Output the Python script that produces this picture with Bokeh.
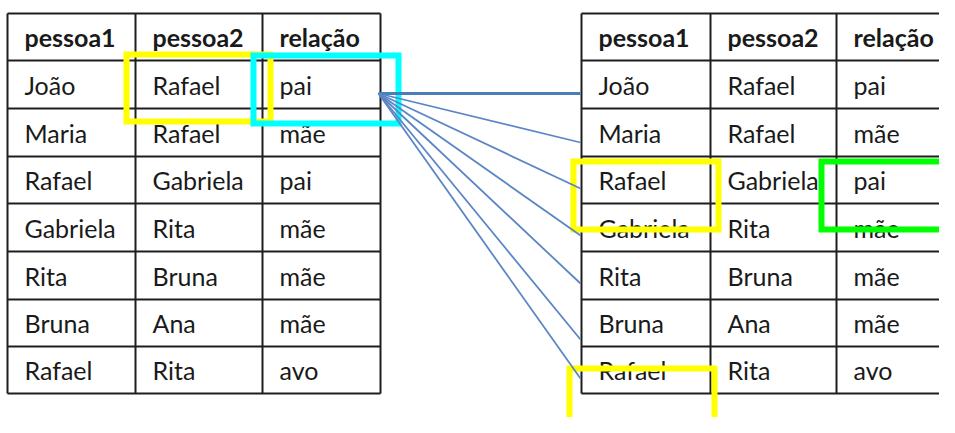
from bokeh.plotting import figure
from bokeh.models import ColumnDataSource, Range1d
from bokeh.core.properties import value
from bokeh.embed import file_html
from bokeh.resources import INLINE

# ---- data ----
headers = ["pessoa1", "pessoa2", "relação"]
pessoa1 = ["João", "Maria", "Rafael", "Gabriela", "Rita", "Bruna", "Rafael"]
pessoa2 = ["Rafael", "Rafael", "Gabriela", "Rita", "Bruna", "Ana", "Rita"]
relacao = ["pai", "mãe", "pai", "mãe", "mãe", "mãe", "avo"]

# ---- layout (screen-pixel coordinates of the reference) ----
W, H = 939, 417
left_cols = [7, 135, 262, 380]
right_cols = [581, 710, 836, 953]
row_edges = [13, 60, 108, 156, 203, 251, 299, 346, 393]
FONT = "Lato"

p = figure(width=W, height=H, output_backend="svg", toolbar_location=None,
           x_range=Range1d(0, W), y_range=Range1d(H, 0),
           min_border=0, outline_line_color=None, background_fill_color="white",
           border_fill_color="white")
p.axis.visible = False
p.grid.visible = False


def draw_table(cols):
    x0s, y0s, x1s, y1s = [], [], [], []
    for y in row_edges:
        x0s.append(cols[0]); x1s.append(cols[-1]); y0s.append(y); y1s.append(y)
    for x in cols:
        x0s.append(x); x1s.append(x); y0s.append(row_edges[0]); y1s.append(row_edges[-1])
    p.segment(x0=x0s, y0=y0s, x1=x1s, y1=y1s, line_color="#1e1e1e", line_width=2)
    hx = [c + 17 for c in cols[:3]]
    hy = [(row_edges[0] + row_edges[1]) / 2] * 3
    p.text(x=hx, y=hy, text=headers, text_font=value(FONT), text_font_style="bold",
           text_font_size="25px", text_color="#1a1a1a", text_baseline="middle")
    xs, ys, ts = [], [], []
    for ci, colvals in enumerate([pessoa1, pessoa2, relacao]):
        for ri, v in enumerate(colvals):
            xs.append(cols[ci] + 17)
            ys.append((row_edges[ri + 1] + row_edges[ri + 2]) / 2)
            ts.append(v)
    p.text(x=xs, y=ys, text=ts, text_font=value(FONT), text_font_size="25px",
           text_color="#1a1a1a", text_baseline="middle")


draw_table(left_cols)
draw_table(right_cols)

# highlight boxes (centre-line coordinates)
boxes = dict(
    left=[126, 253, 573, 821, 569],
    right=[270, 398, 718, 975, 714],
    top=[54, 55, 161, 161, 368],
    bottom=[121, 123, 229, 229, 470],
    color=["#FFFF00", "#00FFFF", "#FFFF00", "#00FF00", "#FFFF00"],
)
p.quad(left="left", right="right", top="top", bottom="bottom",
       source=ColumnDataSource(boxes), fill_alpha=0, line_color="color",
       line_width=6, line_join="miter")

# connector lines
origin = (378, 93)
ends_y = [93, 142, 188, 235, 283, 339, 378]
p.segment(x0=[origin[0]], y0=[origin[1]], x1=[580], y1=[ends_y[0]],
          line_color="#4a7ebb", line_width=3)
p.segment(x0=[origin[0]] * 6, y0=[origin[1]] * 6, x1=[580] * 6, y1=ends_y[1:],
          line_color="#5b86c5", line_width=1.8)

open("out.html", "w").write(file_html(p, INLINE))
